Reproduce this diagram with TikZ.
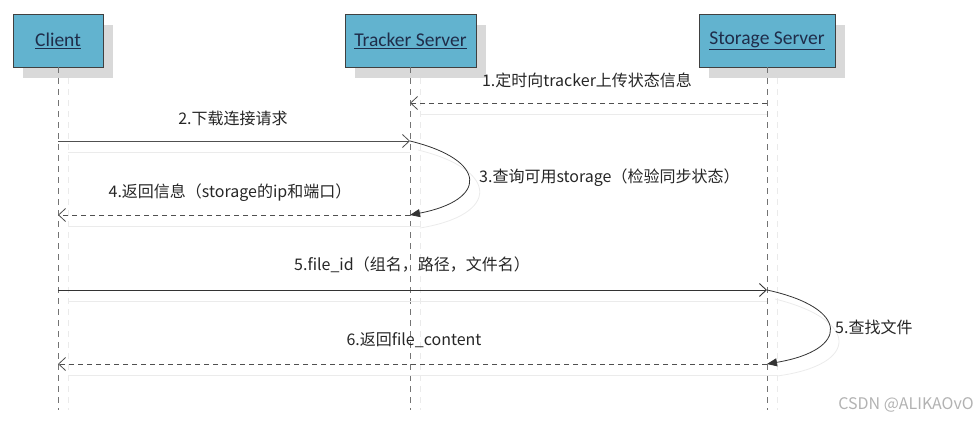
\documentclass[tikz,border=0pt]{standalone}
\usepackage{fontspec}
\setmainfont{Noto Sans CJK SC}
\newfontfamily\titlefont{Carlito}
\usetikzlibrary{arrows.meta}
\definecolor{boxfill}{HTML}{62B3CF}
\definecolor{boxtext}{HTML}{1F2D4A}
\definecolor{msgline}{HTML}{505050}
\tikzset{
  actor/.style={draw=black!75, line width=0.8pt, fill=boxfill, minimum height=53pt, inner sep=0pt,
    font=\titlefont\fontsize{19.5}{21}\selectfont, text=boxtext},
  lifeline/.style={draw=black!55, line width=0.8pt, dash pattern=on 6pt off 5pt},
  lifeshadow/.style={draw=black!8, line width=0.8pt, dash pattern=on 6pt off 5pt},
  msg/.style={draw=msgline, line width=0.8pt, -{Straight Barb[length=7pt,width=13pt]}},
  rmsg/.style={msg, dash pattern=on 5pt off 4pt},
  selfmsg/.style={draw=black!80, line width=0.8pt, -{Triangle[length=10pt,width=8pt]}},
  ghost/.style={draw=black!8, line width=0.8pt},
  lbl/.style={font=\fontsize{16}{18}\selectfont, text=black!85, inner sep=1pt},
}
\begin{document}
\begin{tikzpicture}[x=1pt,y=-1pt]
\useasboundingbox (0,0) rectangle (975,422);
% shadows
\fill[black!15] (23,25) rectangle (113,78);
\fill[black!15] (355,25) rectangle (486,78);
\fill[black!15] (709,25) rectangle (845,78);
% lifeline shadows
\draw[lifeshadow] (68,78) -- (68,410);
\draw[lifeshadow] (420,78) -- (420,410);
\draw[lifeshadow] (777,78) -- (777,410);
% actors
\node[actor, minimum width=90pt] (client) at (58,40.5) {\underline{Client}};
\node[actor, minimum width=131pt] (tracker) at (410.5,40.5) {\underline{Tracker Server}};
\node[actor, minimum width=136pt] (storage) at (767,40.5) {\underline{Storage Server}};
% lifelines
\coordinate (cEnd) at (58,410);
\coordinate (tEnd) at (410,410);
\coordinate (sEnd) at (767,410);
\draw[lifeline] (client.south) -- (cEnd);
\draw[lifeline] (tracker.south -| tEnd) -- (tEnd);
\draw[lifeline] (storage.south) -- (sEnd);
% message anchor coordinates
\coordinate (s1) at (767,103); \coordinate (t1) at (410,103);
\coordinate (c2) at (58,141);  \coordinate (t2) at (410,141);
\coordinate (t3) at (410,215); \coordinate (c4) at (58,215);
\coordinate (c5) at (58,290);  \coordinate (s5) at (767,290);
\coordinate (s6) at (767,364); \coordinate (c6) at (58,364);
% ghost shadows of messages
\draw[ghost] (420,114) -- (767,114);
\draw[ghost] (68,152) -- (410,152);
\draw[ghost] (420,226) -- (68,226);
\draw[ghost] (68,301) -- (767,301);
\draw[ghost] (777,375) -- (68,375);
\draw[ghost] (418,150) .. controls (500,170) and (500,215) .. (420,228);
\draw[ghost] (775,299) .. controls (860,320) and (860,365) .. (777,376);
% messages
\draw[rmsg] (s1) -- (t1);
\node[lbl] (l1) at (587,80) {1.定时向tracker上传状态信息};
\draw[msg] (c2) -- (t2);
\node[lbl] (l2) at (233,118) {2.下载连接请求};
\draw[selfmsg] (t2) .. controls (488,160) and (488,200) .. (t3);
\node[lbl, anchor=west] (l3) at (478,178) {3.查询可用storage（检验同步状态）};
\draw[rmsg] (t3) -- (c4);
\node[lbl] (l4) at (230,193) {4.返回信息（storage的ip和端口）};
\draw[msg, line width=0.9pt, draw=black!80] (c5) -- (s5);
\node[lbl] (l5) at (412,265) {5.file\_id（组名，路径，文件名）};
\draw[selfmsg] (s5) .. controls (850,308) and (850,350) .. (s6);
\node[lbl, anchor=west] (l5b) at (834,327) {5.查找文件};
\draw[rmsg] (s6) -- (c6);
\node[lbl] (l6) at (414,340) {6.返回file\_content};
% watermark
\node[font=\fontsize{16}{18}\selectfont, text=black!30, anchor=east, inner sep=0pt] (wm) at (974,405) {CSDN @ALIKAOvO};
\end{tikzpicture}
\end{document}
